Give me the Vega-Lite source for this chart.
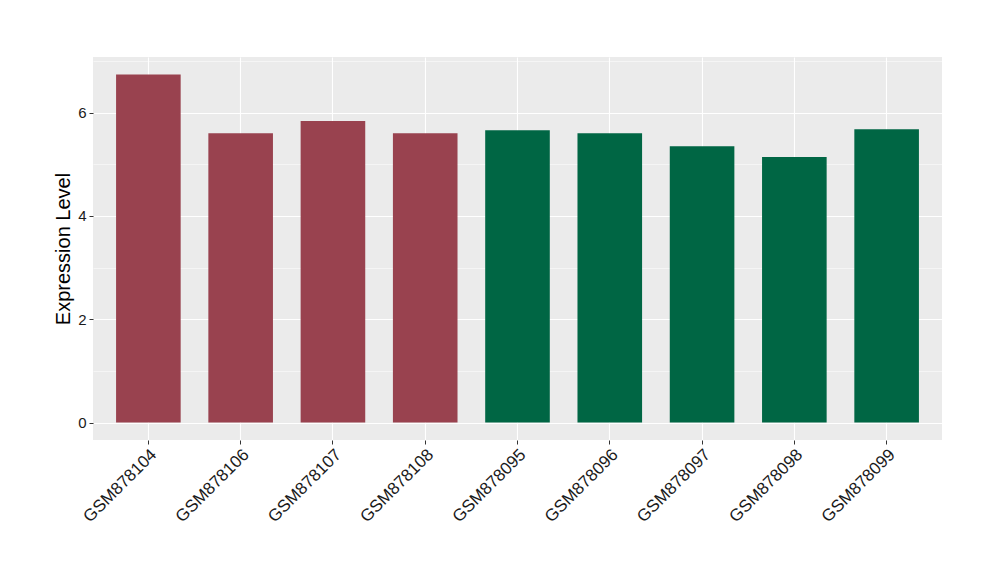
{
  "$schema": "https://vega.github.io/schema/vega-lite/v6.json",
  "autosize": {"type": "none"},
  "width": 849,
  "height": 383,
  "padding": {"left": 93, "top": 57, "right": 58, "bottom": 140},
  "background": "white",
  "config": {
    "view": {"fill": "#EBEBEB", "stroke": null},
    "font": "Liberation Sans"
  },
  "data": {
    "values": [
      {"sample": "GSM878104", "value": 6.74, "group": "A"},
      {"sample": "GSM878106", "value": 5.60, "group": "A"},
      {"sample": "GSM878107", "value": 5.84, "group": "A"},
      {"sample": "GSM878108", "value": 5.60, "group": "A"},
      {"sample": "GSM878095", "value": 5.66, "group": "B"},
      {"sample": "GSM878096", "value": 5.60, "group": "B"},
      {"sample": "GSM878097", "value": 5.35, "group": "B"},
      {"sample": "GSM878098", "value": 5.14, "group": "B"},
      {"sample": "GSM878099", "value": 5.68, "group": "B"}
    ]
  },
  "layer": [
    {
      "mark": {"type": "bar"},
      "encoding": {
        "x": {
          "field": "sample", "type": "nominal", "sort": null,
          "scale": {"paddingInner": 0.3, "paddingOuter": 0.25},
          "axis": {
            "title": null, "labelAngle": -45, "labelAlign": "right", "labelBaseline": "top",
            "labelFontSize": 17, "labelColor": "#1A1A1A", "labelPadding": 2,
            "tickColor": "#333333", "tickSize": 4, "domain": false,
            "grid": true, "gridColor": "white", "gridWidth": 1.1, "bandPosition": 0.5
          }
        },
        "y": {
          "field": "value", "type": "quantitative",
          "scale": {"domain": [-0.337, 7.077], "nice": false, "zero": false},
          "axis": {
            "title": "Expression Level", "titleFontSize": 20, "titleFontWeight": "normal",
            "titleColor": "black", "titlePadding": 4,
            "values": [0, 2, 4, 6], "labelFontSize": 15, "labelColor": "#1A1A1A", "labelPadding": 3,
            "tickColor": "#333333", "tickSize": 4, "domain": false,
            "grid": true, "gridColor": "white", "gridWidth": 1.1
          }
        },
        "color": {
          "field": "group", "type": "nominal",
          "scale": {"domain": ["A", "B"], "range": ["#99424F", "#006644"]},
          "legend": null
        }
      }
    },
    {
      "mark": {"type": "bar", "opacity": 0},
      "encoding": {
        "x": {"field": "sample", "type": "nominal", "sort": null},
        "y": {
          "field": "value", "type": "quantitative",
          "axis": {
            "values": [1, 3, 5, 7], "labels": false, "ticks": false, "domain": false, "title": null,
            "grid": true, "gridColor": "white", "gridWidth": 0.5, "orient": "right"
          }
        }
      }
    }
  ],
  "resolve": {"axis": {"y": "independent"}}
}
